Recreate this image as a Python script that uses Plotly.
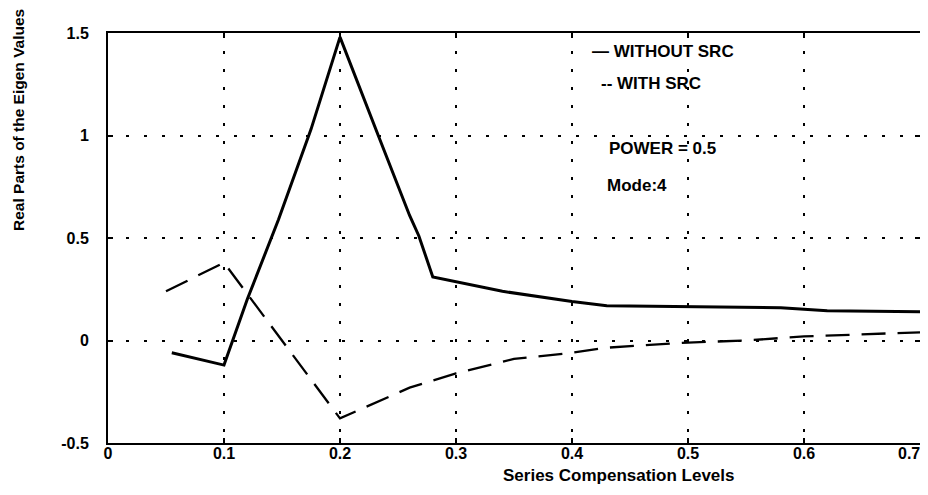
import plotly.graph_objects as go

# Data
without_x = [0.055, 0.1, 0.12, 0.147, 0.175, 0.2, 0.233, 0.26, 0.268, 0.28, 0.34, 0.4, 0.43, 0.5, 0.58, 0.62, 0.7]
without_y = [-0.06, -0.12, 0.2, 0.59, 1.03, 1.48, 1.0, 0.61, 0.51, 0.31, 0.24, 0.19, 0.17, 0.165, 0.16, 0.145, 0.14]

with_x = [0.05, 0.1, 0.2, 0.26, 0.3, 0.35, 0.4, 0.43, 0.5, 0.55, 0.6, 0.65, 0.7]
with_y = [0.24, 0.38, -0.38, -0.23, -0.16, -0.09, -0.06, -0.035, -0.01, 0.0, 0.02, 0.03, 0.04]

x_ticks = [0, 0.1, 0.2, 0.3, 0.4, 0.5, 0.6, 0.7]
x_tick_labels = ["0", "0.1", "0.2", "0.3", "0.4", "0.5", "0.6", "0.7"]
y_ticks = [-0.5, 0, 0.5, 1, 1.5]
y_tick_labels = ["-0.5", "0", "0.5", "1", "1.5"]

FONT = "Liberation Sans, Arial, sans-serif"

# page offset (default body margin of the html page)
OFF = 8
W, H = 920, 487
L, R, T, B = 100, 8, 25, 52
PW, PH = W - L - R, H - T - B

fig = go.Figure()
fig.add_trace(go.Scatter(x=without_x, y=without_y, mode="lines", name="WITHOUT SRC",
                         line=dict(color="black", width=3)))
fig.add_trace(go.Scatter(x=with_x, y=with_y, mode="lines", name="WITH SRC",
                         line=dict(color="black", width=2.3, dash="24px,12px")))

axis_common = dict(
    showline=True, linecolor="black", linewidth=2, mirror="ticks",
    ticks="inside", ticklen=5, tickcolor="black", tickwidth=1.5,
    showgrid=True, gridcolor="black", gridwidth=1.8, griddash="3px,15px",
    zeroline=False, automargin=False,
    tickfont=dict(family=FONT, size=16, color="black", weight="bold"),
)

# last x tick label is right-aligned to the axis end (as in the reference), drawn below
shown_x_labels = x_tick_labels[:-1] + [""]
fig.update_xaxes(range=[0, 0.7], tickvals=x_ticks, ticktext=shown_x_labels,
                 ticklabelstandoff=-5, **axis_common)
fig.update_yaxes(range=[-0.5, 1.5], tickvals=y_ticks, ticktext=y_tick_labels,
                 ticklabelstandoff=14, **axis_common)


def to_paper(wx, wy):
    return (wx - OFF - L) / PW, 1 - (wy - OFF - T) / PH


_, ylab = to_paper(0, 453)
fig.add_annotation(
    text=x_tick_labels[-1], x=x_ticks[-1], y=ylab, xref="x", yref="paper",
    xanchor="right", yanchor="middle", xshift=2, showarrow=False,
    font=dict(family=FONT, size=16, color="black", weight="bold"),
)

annotations = [
    dict(text="— WITHOUT SRC", x=590, y=51, xanchor="left", size=17),
    dict(text="-- WITH SRC", x=599, y=83, xanchor="left", size=17),
    dict(text="POWER = 0.5", x=607, y=148, xanchor="left", size=17),
    dict(text="Mode:4", x=605, y=185, xanchor="left", size=17),
    dict(text="Series Compensation Levels", x=618, y=475, xanchor="center", size=17),
]
for a in annotations:
    px, py = to_paper(a["x"], a["y"])
    fig.add_annotation(
        text=a["text"], x=px, y=py, xref="paper", yref="paper",
        xanchor=a["xanchor"], yanchor="middle", showarrow=False,
        font=dict(family=FONT, size=a["size"], color="black", weight="bold"),
    )

px, py = to_paper(19, 120)
fig.add_annotation(
    text="Real Parts of the Eigen Values", x=px, y=py,
    xref="paper", yref="paper", textangle=-90, showarrow=False,
    xanchor="center", yanchor="middle",
    font=dict(family=FONT, size=15.5, color="black", weight="bold"),
)

fig.update_layout(
    width=W, height=H,
    margin=dict(l=L, r=R, t=T, b=B, autoexpand=False),
    paper_bgcolor="white", plot_bgcolor="white",
    showlegend=False,
)

fig.write_html("out.html")
